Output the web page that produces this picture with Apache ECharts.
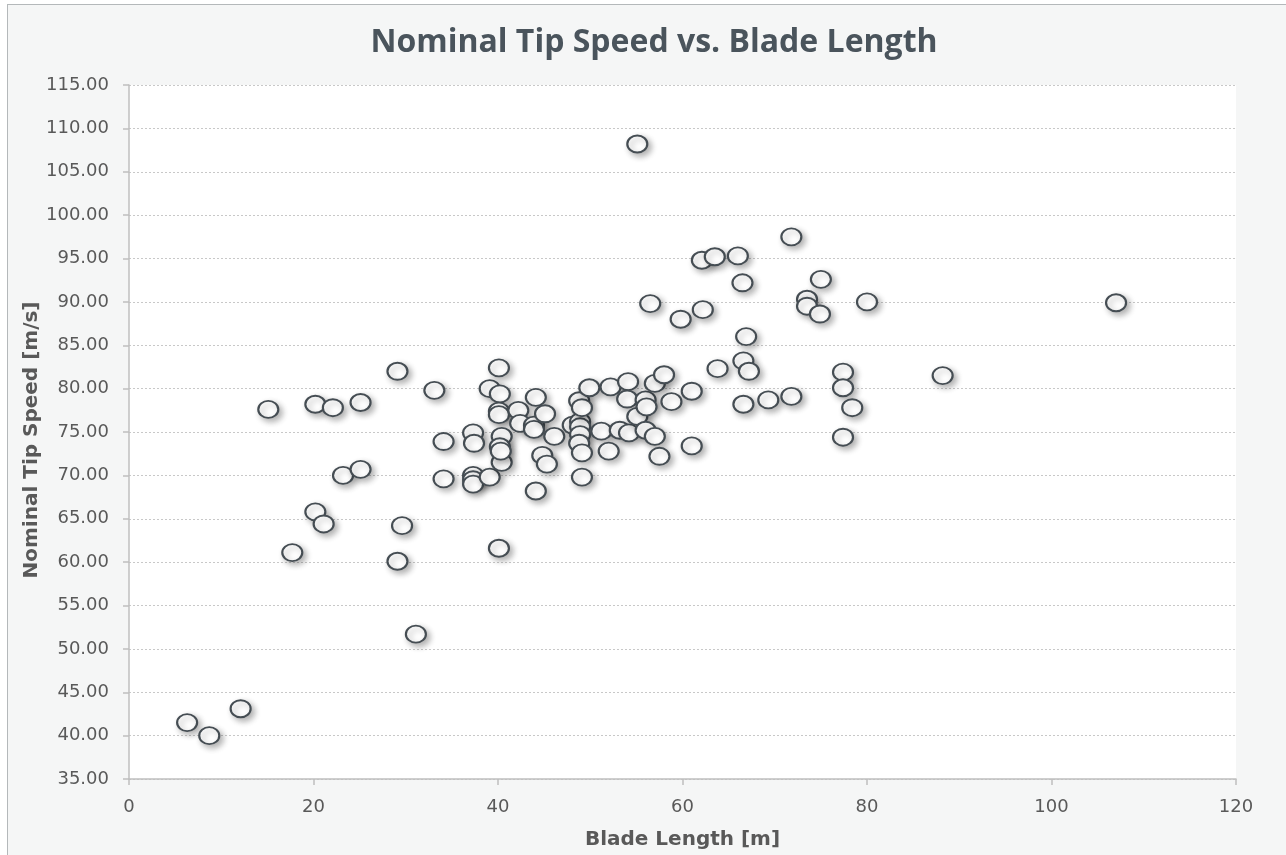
<!DOCTYPE html>
<html><head><meta charset="utf-8">
<script src="https://cdn.jsdelivr.net/npm/echarts@6/dist/echarts.min.js"></script>
<style>
html,body{margin:0;padding:0;background:#ffffff;}
#frame{position:absolute;left:7px;top:4px;width:1290px;height:870px;border:1px solid #b4b8ba;background:#f5f6f6;}
#chart{position:absolute;left:0;top:0;width:1286px;height:855px;}
</style></head>
<body>
<div id="frame"></div>
<div id="chart"></div>
<script>
const titleText = 'Nominal Tip Speed vs. Blade Length';
const xName = 'Blade Length [m]';
const yName = 'Nominal Tip Speed [m/s]';
const bladeLength = [
 6.3, 8.7, 12.1, 15.1, 17.7, 20.2, 20.2, 21.1, 22.1, 23.2, 25.1, 25.1,
 29.1, 29.1, 29.6, 31.1, 33.1, 34.1, 34.1, 37.3, 37.4, 37.3, 37.3, 37.3,
 39.1, 39.1, 40.1, 40.2, 40.1, 40.1, 40.4, 40.2, 40.4, 40.1, 42.2, 42.4,
 44.1, 43.9, 43.9, 44.1, 44.8, 45.1, 45.3, 46.1, 48.1, 48.9, 48.9, 48.8,
 49.1, 48.9, 48.8, 49.1, 49.1, 49.9, 51.2, 52.2, 52.0, 53.2, 54.1, 54.0,
 54.2, 55.1, 55.1, 56.0, 56.1, 56.0, 56.5, 57.0, 57.0, 57.5, 58.0, 58.8,
 59.8, 61.0, 61.0, 62.1, 62.2, 63.5, 63.8, 66.0, 66.5, 66.6, 66.6, 66.9,
 67.2, 69.3, 71.8, 71.8, 73.5, 73.5, 75.0, 74.9, 77.4, 77.4, 77.4, 78.4,
 80.0, 88.2, 107.0, 40.3
];
const tipSpeed = [
 41.5, 40.0, 43.1, 77.6, 61.1, 65.8, 78.2, 64.4, 77.8, 70.0, 70.7, 78.4,
 82.0, 60.1, 64.2, 51.7, 79.8, 73.9, 69.6, 74.9, 73.7, 70.0, 69.5, 69.0,
 80.0, 69.8, 82.4, 79.4, 77.4, 77.0, 74.5, 73.3, 71.5, 61.6, 77.5, 76.0,
 79.0, 75.8, 75.3, 68.2, 72.3, 77.1, 71.3, 74.5, 75.8, 76.2, 75.6, 78.6,
 77.8, 74.7, 73.7, 72.6, 69.8, 80.1, 75.1, 80.2, 72.8, 75.2, 80.8, 78.8,
 74.9, 108.2, 76.8, 78.7, 77.9, 75.2, 89.8, 80.6, 74.5, 72.2, 81.6, 78.5,
 88.0, 79.7, 73.4, 94.8, 89.1, 95.2, 82.3, 95.3, 92.2, 83.2, 78.2, 86.0,
 82.0, 78.7, 97.5, 79.1, 90.3, 89.5, 92.6, 88.6, 81.9, 80.1, 74.4, 77.8,
 90.0, 81.5, 89.9, 72.8
];
const points = bladeLength.map((x, i) => [x, tipSpeed[i]]);
const chart = echarts.init(document.getElementById('chart'), null, {renderer: 'canvas'});
const titleFont = '"Open Sans", "Noto Sans", sans-serif';
const font = '"DejaVu Sans", "Noto Sans", sans-serif';
chart.setOption({
  backgroundColor: 'transparent',
  animation: false,
  title: {
    text: titleText, left: 649, top: 22, textAlign: 'center',
    textStyle: {fontFamily: titleFont, fontSize: 32, fontWeight: 'bold', color: '#4a545c'}
  },
  grid: {left: 129, right: 50, top: 85, bottom: 76, show: true, backgroundColor: '#ffffff', borderWidth: 0},
  xAxis: {
    type: 'value', min: 0, max: 120, interval: 20,
    name: xName, nameLocation: 'middle', nameGap: 51,
    nameTextStyle: {fontFamily: font, fontSize: 20, fontWeight: 'bold', color: '#595959'},
    axisLine: {show: true, lineStyle: {color: '#bfbfbf', width: 1.5}},
    axisTick: {show: true, length: 6, lineStyle: {color: '#bfbfbf', width: 1.5}},
    axisLabel: {margin: 19, fontFamily: font, fontSize: 18, color: '#595959'},
    splitLine: {show: false}
  },
  yAxis: {
    type: 'value', min: 35, max: 115, interval: 5,
    name: yName, nameLocation: 'middle', nameGap: 87, nameRotate: 90,
    nameMoveOverlap: false,
    nameTextStyle: {fontFamily: font, fontSize: 20, fontWeight: 'bold', color: '#595959', padding: [0, 16, 0, 0]},
    axisLine: {show: true, lineStyle: {color: '#bfbfbf', width: 1.5}},
    axisTick: {show: true, length: 6, lineStyle: {color: '#bfbfbf', width: 1.5}},
    axisLabel: {margin: 20, fontFamily: font, fontSize: 18, color: '#595959',
      formatter: v => v.toFixed(2)},
    splitLine: {show: true, lineStyle: {color: '#c8c8c8', type: [2, 2], width: 1}}
  },
  series: [{
    type: 'scatter',
    data: points,
    symbol: 'circle',
    symbolSize: [20, 17],
    itemStyle: {
      opacity: 1,
      color: '#ffffff', borderColor: '#454d53', borderWidth: 2,
      shadowColor: 'rgba(0,0,0,0.3)', shadowBlur: 6, shadowOffsetX: 3, shadowOffsetY: 3
    }
  }]
});
</script>
</body></html>
